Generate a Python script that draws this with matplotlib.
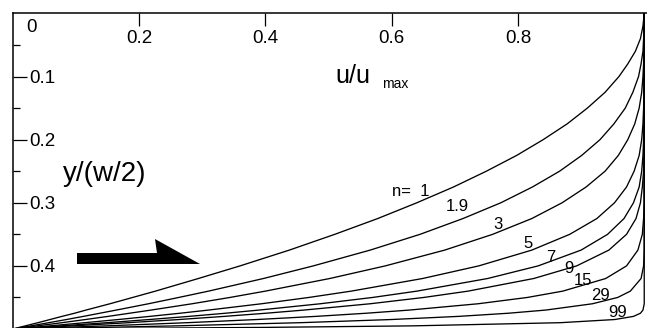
import matplotlib
matplotlib.use('Agg')
import matplotlib.pyplot as plt

plt.rcParams['font.family'] = ['Liberation Sans', 'DejaVu Sans']

# y/(w/2) measured from the centre line (axis drawn downwards)
y_pos = [0, 0.02, 0.04, 0.06, 0.08, 0.1, 0.125, 0.15, 0.175, 0.2, 0.225, 0.25,
         0.275, 0.3, 0.325, 0.35, 0.375, 0.4, 0.42, 0.44, 0.45, 0.46, 0.47,
         0.475, 0.48, 0.485, 0.49, 0.495, 0.4975, 0.5]

# u/umax read for each curve at the y positions above
u_n1 = [1, 0.998, 0.994, 0.986, 0.974, 0.96, 0.938, 0.91, 0.878, 0.84, 0.798, 0.75,
        0.698, 0.64, 0.578, 0.51, 0.438, 0.36, 0.294, 0.226, 0.19, 0.154, 0.116,
        0.098, 0.078, 0.059, 0.040, 0.020, 0.010, 0]
u_n19 = [1, 1.0, 0.999, 0.998, 0.995, 0.991, 0.982, 0.970, 0.952, 0.930, 0.901, 0.866,
         0.823, 0.773, 0.713, 0.645, 0.566, 0.476, 0.397, 0.310, 0.263, 0.215, 0.164,
         0.138, 0.112, 0.085, 0.057, 0.029, 0.014, 0]
u_n3 = [1, 1, 1.0, 1.0, 0.999, 0.998, 0.996, 0.992, 0.985, 0.974, 0.959, 0.938,
        0.908, 0.870, 0.822, 0.760, 0.684, 0.590, 0.502, 0.400, 0.344, 0.284, 0.219,
        0.185, 0.151, 0.115, 0.078, 0.039, 0.020, 0]
u_n5 = [1, 1, 1, 1, 1, 1, 1, 0.999, 0.998, 0.996, 0.992, 0.984,
        0.972, 0.953, 0.925, 0.882, 0.822, 0.738, 0.649, 0.536, 0.469, 0.394, 0.310,
        0.265, 0.217, 0.167, 0.114, 0.059, 0.030, 0]
u_n7 = [1, 1, 1, 1, 1, 1, 1, 1, 1, 0.999, 0.998, 0.996,
        0.992, 0.983, 0.968, 0.942, 0.900, 0.832, 0.752, 0.640, 0.570, 0.487, 0.390,
        0.337, 0.279, 0.216, 0.149, 0.077, 0.039, 0]
u_n9 = [1, 1, 1, 1, 1, 1, 1, 1, 1, 1, 1, 0.999,
        0.997, 0.994, 0.987, 0.972, 0.944, 0.893, 0.825, 0.721, 0.651, 0.566, 0.461,
        0.401, 0.335, 0.263, 0.183, 0.096, 0.049, 0]
u_n15 = [1, 1, 1, 1, 1, 1, 1, 1, 1, 1, 1, 1,
         1, 1, 0.999, 0.997, 0.990, 0.972, 0.939, 0.871, 0.815, 0.737, 0.628,
         0.560, 0.480, 0.386, 0.276, 0.149, 0.077, 0]
u_n29 = [1, 1, 1, 1, 1, 1, 1, 1, 1, 1, 1, 1,
         1, 1, 1, 1, 1, 0.999, 0.995, 0.978, 0.958, 0.918, 0.844,
         0.785, 0.706, 0.599, 0.455, 0.260, 0.140, 0]
u_n99 = [1, 1, 1, 1, 1, 1, 1, 1, 1, 1, 1, 1,
         1, 1, 1, 1, 1, 1, 1, 1, 1, 1, 0.998,
         0.994, 0.983, 0.953, 0.867, 0.634, 0.394, 0]

curves = [u_n1, u_n19, u_n3, u_n5, u_n7, u_n9, u_n15, u_n29, u_n99]
labels = ['n=  1', '1.9', '3', '5', '7', '9', '15', '29', '99']
label_u = [0.631, 0.7036, 0.7685, 0.816, 0.8524, 0.8809, 0.9031, 0.930, 0.9585]
label_y = [0.2814, 0.3067, 0.3337, 0.3638, 0.386, 0.4034, 0.4224, 0.4477, 0.4731]

xticks = [0.2, 0.4, 0.6, 0.8]
yticks = [0.1, 0.2, 0.3, 0.4]

fig = plt.figure(figsize=(6.47, 3.28), dpi=100)
ax = fig.add_axes([12.7 / 647, 0, 1 - 12.7 / 647, 1 - 13.4 / 328])

for u in curves:
    ax.plot(u, y_pos, color='black', lw=0.95)

for lab, lu, ly in zip(labels, label_u, label_y):
    ax.text(lu, ly, lab, fontsize=12, ha='center', va='center')

# thick arrow
ax.fill([0.1018, 0.2285, 0.2253, 0.2966, 0.1018],
        [0.3796, 0.3796, 0.3574, 0.3970, 0.3970], color='black', lw=0)

ax.set_xlim(0, 1.0044)
ax.set_ylim(0.4984, 0)

for s in ['right', 'bottom']:
    ax.spines[s].set_visible(False)
for s in ['left', 'top']:
    ax.spines[s].set_linewidth(1.1)

ax.xaxis.tick_top()
ax.set_xticks(xticks)
ax.set_xticklabels([str(t) for t in xticks])
ax.set_yticks(yticks)
ax.set_yticklabels([str(t) for t in yticks])
ax.set_yticks([0.05, 0.15, 0.25, 0.35, 0.45], minor=True)
ax.tick_params(axis='x', which='major', direction='in', length=9, width=0.9,
               labelsize=13.5, pad=-18.4)
ax.tick_params(axis='y', which='major', direction='in', length=10, width=0.9,
               labelsize=13.5, pad=-11.7)
ax.tick_params(axis='y', which='minor', direction='in', length=5, width=0.9)
for lbl in ax.get_xticklabels():
    lbl.set_va('center')
for lbl in ax.get_yticklabels():
    lbl.set_ha('left')

ax.text(0.0295, 0.0223, '0', fontsize=13.5, ha='center', va='center')

# axis titles inside the frame
ax.text(0.5105, 0.1107, 'u/u', fontsize=18, ha='left', va='baseline')
ax.text(0.585, 0.1182, 'max', fontsize=10, ha='left', va='baseline')
ax.text(0.080, 0.2655, 'y/(w/2)', fontsize=20, ha='left', va='baseline')

fig.savefig('out.png', dpi=100)
